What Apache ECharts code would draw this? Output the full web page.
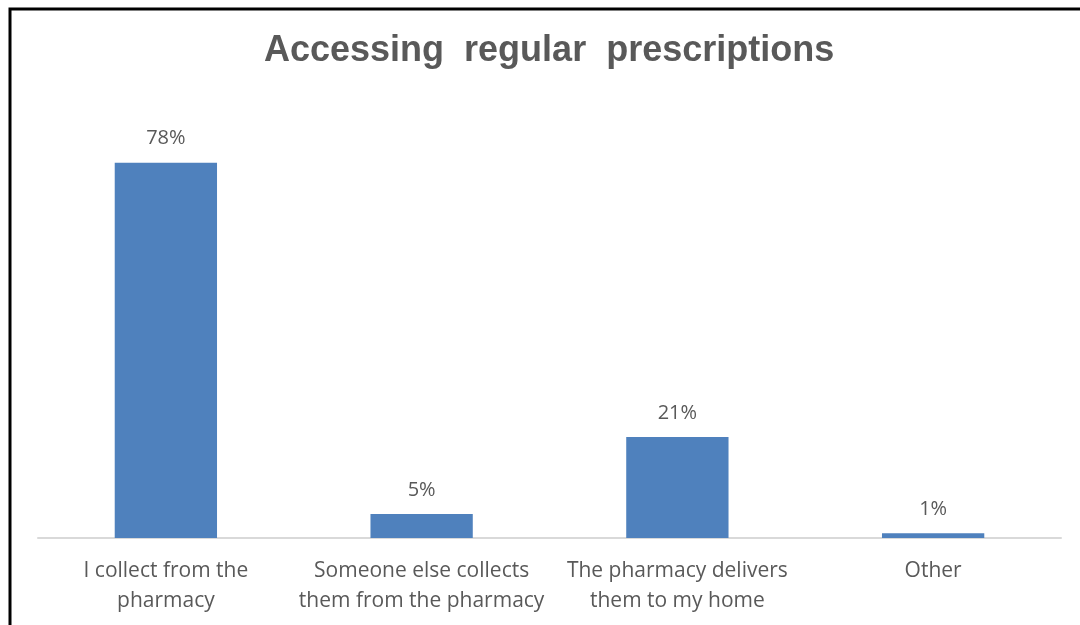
<!DOCTYPE html>
<html>
<head>
<meta charset="utf-8">
<script src="https://cdn.jsdelivr.net/npm/echarts@6/dist/echarts.min.js"></script>
<style>
  html, body { margin: 0; padding: 0; background: #fff; }
  #chart { width: 1080px; height: 625px; }
</style>
</head>
<body>
<div id="chart"></div>
<script>
const categories = [
  'I collect from the\npharmacy',
  'Someone else collects\nthem from the pharmacy',
  'The pharmacy delivers\nthem to my home',
  'Other'
]
const shares = [78, 5, 21, 1]

const chart = echarts.init(document.getElementById('chart'))

chart.setOption({
  animation: false,
  title: {
    text: 'Accessing  regular  prescriptions',
    // frame starts at x=10, so the title sits a bit right of page centre
    left: 259,
    top: 28,
    textStyle: {
      fontFamily: 'Liberation Sans',
      fontSize: 36,
      fontWeight: 'bold',
      color: '#595959'
    }
  },
  graphic: [{
    type: 'rect',
    shape: { x: 10, y: 9, width: 1200, height: 800 },
    style: { fill: 'none', stroke: '#000', lineWidth: 3 },
    silent: true
  }],
  grid: { left: 38, right: 19, top: 105, bottom: 87 },
  xAxis: {
    type: 'category',
    data: categories,
    axisLine: { lineStyle: { color: '#d9d9d9', width: 2 } },
    axisTick: { show: false },
    axisLabel: {
      color: '#595959',
      fontFamily: 'Open Sans',
      fontSize: 21,
      lineHeight: 30,
      margin: 18,
      interval: 0
    }
  },
  yAxis: {
    type: 'value',
    min: 0,
    max: 90,
    show: false
  },
  series: [{
    type: 'bar',
    data: shares,
    barWidth: '40%',
    itemStyle: { color: '#4f81bd' },
    label: {
      show: true,
      position: 'top',
      distance: 14,
      formatter: '{c}%',
      color: '#595959',
      fontFamily: 'Open Sans',
      fontSize: 20
    }
  }]
})
</script>
</body>
</html>
